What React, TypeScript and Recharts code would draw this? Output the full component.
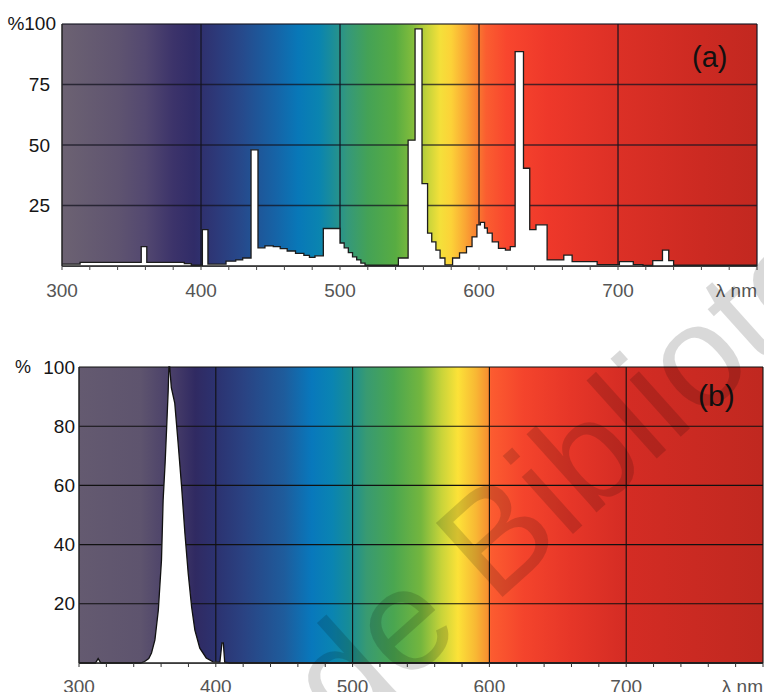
import React from "react";
import { ComposedChart, Area, XAxis, YAxis, CartesianGrid } from "recharts";

// wavelength axis, nm
const wavelengthTicks = [
  300, 320, 340, 360, 380, 400, 420, 440, 460, 480, 500, 520, 540, 560, 580,
  600, 620, 640, 660, 680, 700, 720, 740, 760, 780, 800,
];
const gridWavelengths = [400, 500, 600, 700, 800];
const percentTicksA = [25, 50, 75, 100];
const percentTicksB = [20, 40, 60, 80, 100];

// (a) lamp spectrum (stepped), relative %
const lampNm = [
  300, 313, 357, 361, 388, 393, 401, 405, 418, 425, 430, 436, 441, 446, 452,
  457, 462, 468, 474, 478, 482, 488, 500, 503, 506, 509, 512, 515, 518, 542,
  549, 554, 559, 563, 566, 569, 572, 575.5, 581, 586, 591, 595, 598.5, 601,
  604, 606, 609.5, 614, 619, 622.5, 626, 632, 636.5, 641, 649, 661, 667, 685,
  701, 711, 718, 725, 732, 736.5, 740, 800,
];
const lampPct = [
  0.8, 1.5, 8, 1.5, 1.0, 0.3, 15, 0.8, 2, 2.5, 3.3, 48, 7.5, 8.3, 8,
  7.2, 6.2, 5.2, 4.4, 3.6, 4.2, 15.5, 9.5, 7.5, 5.5, 3.8, 2.5, 1.2, 0.3, 3.3,
  52, 98, 34, 13.6, 10, 6.6, 3.3, 0.5, 3.3, 5.4, 8, 12, 17, 18,
  15.7, 13.6, 10, 7.3, 6.6, 8, 88.6, 40.4, 15, 17, 2.5, 4.5, 1.8, 0.6,
  1.8, 0.6, 0.2, 2.2, 6.6, 2.2, 0.3, 0.3,
];

// (b) UV LED spectrum, relative %
const ledNm = [
  300, 312, 314, 316, 345, 348, 351, 353, 355.5, 358, 360.3, 361.5, 363, 364,
  365.2, 365.7, 366.3, 367.5, 370, 372.5, 375, 377.4, 379.8, 382.3, 384.7,
  388.3, 393, 398, 403, 404.5, 405.5, 406.5, 410, 800,
];
const ledPct = [
  0, 0, 1.5, 0, 0, 0.5, 1.5, 3.4, 7.8, 17.9, 34.8, 55, 68, 78.7,
  92, 100, 100, 93, 87.8, 74, 59.6, 43.9, 30.4, 19, 11.1,
  5, 1.7, 0.4, 0.3, 6.8, 6.8, 0.3, 0, 0,
];

const lampRows = lampNm.map((nm, i) => ({ nm, pct: lampPct[i] }));
const ledRows = ledNm.map((nm, i) => ({ nm, pct: ledPct[i] }));

const stopsA: [number, string][] = [
  [300, "#6c6272"], [340, "#5f5470"], [360, "#534870"], [380, "#3c336a"],
  [395, "#302c68"], [410, "#2d3878"], [430, "#264a8c"], [455, "#1565a8"],
  [470, "#0878b8"], [485, "#0a84b0"], [495, "#1c8e98"], [505, "#34987c"],
  [520, "#44a256"], [540, "#58ac42"], [552, "#80bc3c"], [562, "#c0d23a"],
  [572, "#f4e03a"], [580, "#fcd238"], [590, "#faa634"], [598, "#f88030"],
  [605, "#fa5e30"], [620, "#f8462e"], [650, "#ee382a"], [700, "#dc3026"],
  [760, "#cc2a22"], [800, "#c22820"],
];
const stopsB: [number, string][] = [
  [300, "#645a70"], [345, "#5e546e"], [370, "#463c68"], [385, "#302a62"],
  [400, "#2c3270"], [420, "#2a4282"], [450, "#1e5c9c"], [470, "#0878bc"],
  [485, "#0a84b2"], [497, "#168c98"], [510, "#389a72"], [530, "#4aa650"],
  [550, "#74b63e"], [565, "#c8d43a"], [577, "#fce238"], [590, "#f8b834"],
  [599, "#f89030"], [601, "#fc5c30"], [625, "#f4442c"], [660, "#e63628"],
  [700, "#d42c24"], [800, "#c02820"],
];

const FONT = "'Liberation Sans', Arial, sans-serif";

const XTick = (props: any) => {
  const { x, y, payload } = props;
  const v = payload.value;
  if (v % 100 !== 0) return <g />;
  const last = v === 800;
  return (
    <text
      x={x}
      y={y}
      dy="0.71em"
      textAnchor={last ? "end" : "middle"}
      fontSize={19}
      fill="#555"
      fontFamily={FONT}
    >
      {last ? "λ nm" : v}
    </text>
  );
};

const YTickA = (props: any) => {
  const { x, y, payload } = props;
  const v = payload.value;
  return (
    <text
      x={v === 100 ? x + 6 : x}
      y={v === 100 ? y - 1 : y}
      dy="0.35em"
      textAnchor="end"
      fontSize={19}
      fill="#151515"
      fontFamily={FONT}
    >
      {v === 100 ? "%100" : v}
    </text>
  );
};

const YTickB = (props: any) => {
  const { x, y, payload } = props;
  const v = payload.value;
  return (
    <g>
      {v === 100 && (
        <text x={x - 60} y={y} dy="0.35em" fontSize={18} fill="#151515" fontFamily={FONT}>
          %
        </text>
      )}
      <text x={x} y={y} dy="0.35em" textAnchor="end" fontSize={19} fill="#151515" fontFamily={FONT}>
        {v}
      </text>
    </g>
  );
};

export default function App() {
  return (
    <div style={{ position: "absolute", left: 0, top: 0, width: 764, height: 692, background: "#fff" }}>
      <div style={{ position: "absolute", left: 0, top: 0 }}>
        <ComposedChart
          width={764}
          height={300}
          data={lampRows}
          margin={{ top: 24, right: 7, bottom: 0, left: 0 }}
        >
          <defs>
            <linearGradient id="specA" x1="0" y1="0" x2="1" y2="0">
              {stopsA.map(([nm, c]) => (
                <stop key={nm} offset={(nm - 300) / 500} stopColor={c} />
              ))}
            </linearGradient>
          </defs>
          <CartesianGrid
            fill="url(#specA)"
            fillOpacity={1}
            stroke="#141420"
            strokeOpacity={0.75}
            strokeWidth={1.6}
            verticalValues={gridWavelengths}
          />
          <XAxis
            dataKey="nm"
            type="number"
            domain={[300, 800]}
            ticks={wavelengthTicks}
            interval={0}
            height={34}
            tickSize={4}
            tickMargin={14}
            tick={<XTick />}
            axisLine={{ stroke: "#222", strokeWidth: 1.5 }}
            tickLine={{ stroke: "#444" }}
          />
          <YAxis
            type="number"
            domain={[0, 100]}
            ticks={percentTicksA}
            width={62}
            tickSize={0}
            tickMargin={12}
            tickLine={false}
            tick={<YTickA />}
            axisLine={{ stroke: "#222", strokeWidth: 1.5 }}
          />
          <Area
            dataKey="pct"
            type="stepAfter"
            stroke="#1c1c1c"
            strokeWidth={1.3}
            fill="#ffffff"
            fillOpacity={1}
            dot={false}
            activeDot={false}
            isAnimationActive={false}
          />
        </ComposedChart>
      </div>
      <div style={{ position: "absolute", left: 0, top: 340 }}>
        <ComposedChart
          width={764}
          height={352}
          data={ledRows}
          margin={{ top: 27, right: 1, bottom: 0, left: 0 }}
        >
          <defs>
            <linearGradient id="specB" x1="0" y1="0" x2="1" y2="0">
              {stopsB.map(([nm, c]) => (
                <stop key={nm} offset={(nm - 300) / 500} stopColor={c} />
              ))}
            </linearGradient>
          </defs>
          <CartesianGrid
            fill="url(#specB)"
            fillOpacity={1}
            stroke="#111"
            strokeWidth={1.1}
            verticalValues={gridWavelengths}
          />
          <XAxis
            dataKey="nm"
            type="number"
            domain={[300, 800]}
            ticks={wavelengthTicks}
            interval={0}
            height={29}
            tickSize={4}
            tickMargin={13}
            tick={<XTick />}
            axisLine={{ stroke: "#222", strokeWidth: 1.5 }}
            tickLine={{ stroke: "#333" }}
          />
          <YAxis
            type="number"
            domain={[0, 100]}
            ticks={percentTicksB}
            width={79}
            tickSize={0}
            tickMargin={4}
            tickLine={false}
            tick={<YTickB />}
            axisLine={{ stroke: "#222", strokeWidth: 1.5 }}
          />
          <Area
            dataKey="pct"
            type="linear"
            stroke="#111"
            strokeWidth={1.3}
            fill="#ffffff"
            fillOpacity={1}
            dot={false}
            activeDot={false}
            isAnimationActive={false}
          />
        </ComposedChart>
      </div>
      <svg
        width={764}
        height={692}
        style={{ position: "absolute", left: 0, top: 0, pointerEvents: "none" }}
      >
        <text x={692} y={67} fontSize={29} fill="#111" fontFamily={FONT}>
          (a)
        </text>
        <text x={698} y={406} fontSize={30} fill="#111" fontFamily={FONT}>
          (b)
        </text>
        <text
          transform="translate(344,740) rotate(-42)"
          fontSize={145}
          fill="#000"
          fillOpacity={0.15}
          fontFamily={FONT}
        >
          de Biblioteca
        </text>
      </svg>
    </div>
  );
}
